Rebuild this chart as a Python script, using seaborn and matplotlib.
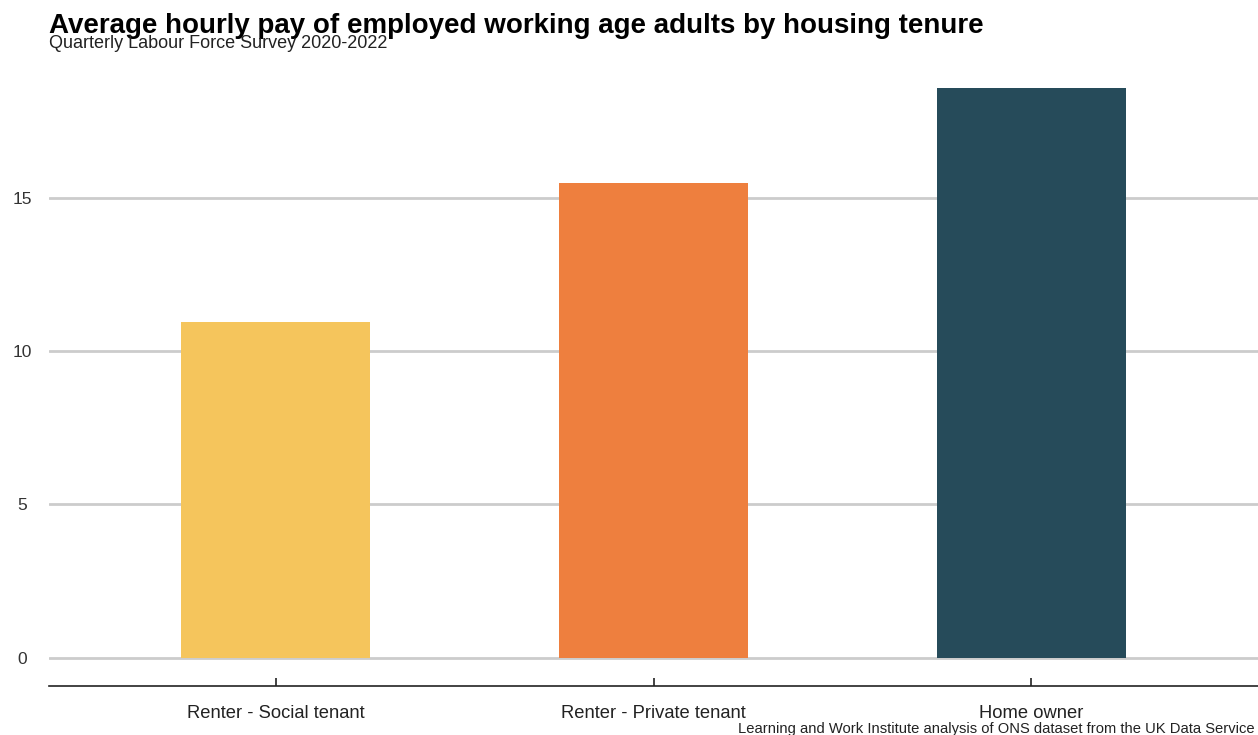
import matplotlib
matplotlib.use("Agg")
import matplotlib.pyplot as plt
import seaborn as sns
import pandas as pd

tenures = ["Renter - Social tenant", "Renter - Private tenant", "Home owner"]
hourly_pay = [10.97, 15.49, 18.62]
bar_colors = ["#F5C55C", "#EE7F3E", "#264B5A"]
y_ticks = [0, 5, 10, 15]

sns.set_theme(style="white")
plt.rcParams["font.family"] = ["Liberation Sans", "DejaVu Sans"]

df = pd.DataFrame({"tenure": tenures, "pay": hourly_pay})

fig = plt.figure(figsize=(12.58, 7.35), dpi=100)
ax = fig.add_axes([49 / 1258, 1 - 686 / 735, 1 - 49 / 1258, (686 - 59) / 735])

sns.barplot(data=df, x="tenure", y="pay", hue="tenure", palette=bar_colors,
            width=0.5, legend=False, saturation=1, ax=ax, zorder=3,
            edgecolor="none", linewidth=0)

top = max(hourly_pay) * 1.05
ax.set_ylim(-max(hourly_pay) * 0.05, top)
ax.set_xlim(-0.6, 2.6)
ax.set_yticks(y_ticks)
for v in y_ticks:
    ax.axhline(v, color="#CCCCCC", linewidth=2, zorder=1)

for side in ["top", "right", "left"]:
    ax.spines[side].set_visible(False)
ax.spines["bottom"].set_color("#222222")
ax.spines["bottom"].set_linewidth(1.2)

ax.tick_params(axis="y", length=0, pad=19, labelsize=12.5, labelcolor="#333333")
ax.tick_params(axis="x", direction="in", length=6, width=1.2, color="#222222",
               pad=14, labelsize=13.2, labelcolor="#222222", bottom=True)
for lbl in ax.get_yticklabels():
    lbl.set_horizontalalignment("center")
ax.set_xlabel("")
ax.set_ylabel("")

fig.text(49 / 1258, 1 - 26 / 735, "Average hourly pay of employed working age adults by housing tenure",
         fontsize=20, fontweight="bold", color="#000000", va="center", ha="left")
fig.text(49 / 1258, 1 - 43 / 735, "Quarterly Labour Force Survey 2020-2022",
         fontsize=13, color="#222222", va="center", ha="left")
fig.text(1255 / 1258, 1 - 729 / 735,
         "Learning and Work Institute analysis of ONS dataset from the UK Data Service",
         fontsize=10.6, color="#222222", va="center", ha="right")

fig.savefig("out.png", dpi=100, facecolor="white")
